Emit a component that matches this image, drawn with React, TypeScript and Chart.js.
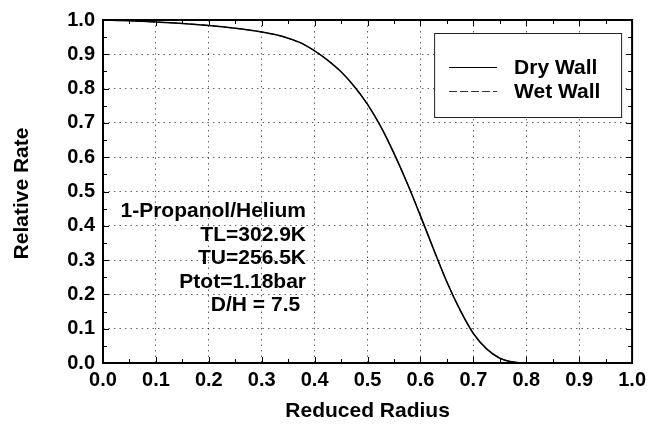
import React, { useEffect, useRef } from "react";
import { Chart, registerables } from "chart.js";

Chart.register(...registerables);

// Reduced radius (x) and relative rate (y)
const radius = [0, 0.05, 0.1, 0.15, 0.2, 0.25, 0.275, 0.3, 0.325, 0.35, 0.375, 0.4, 0.425, 0.45, 0.475, 0.5, 0.525, 0.55, 0.575, 0.6, 0.625, 0.65, 0.675, 0.7, 0.725, 0.75, 0.775, 0.8, 0.85, 0.9, 0.95, 1.0];
const dryWall = [1.0, 0.998, 0.994, 0.99, 0.984, 0.976, 0.971, 0.965, 0.9575, 0.947, 0.9325, 0.91, 0.8825, 0.849, 0.806, 0.754, 0.689, 0.611, 0.524, 0.429, 0.331, 0.236, 0.154, 0.086, 0.041, 0.014, 0.003, 0.0, 0.0, 0.0, 0.0, 0.0];
const wetWall = [1.0, 0.998, 0.994, 0.99, 0.984, 0.976, 0.971, 0.965, 0.9575, 0.947, 0.9325, 0.91, 0.8825, 0.849, 0.806, 0.754, 0.689, 0.611, 0.524, 0.429, 0.331, 0.236, 0.154, 0.086, 0.041, 0.014, 0.003, 0.0, 0.0, 0.0, 0.0, 0.0];

const seriesLabels = ["Dry Wall", "Wet Wall"];
const xTitle = "Reduced Radius";
const yTitle = "Relative Rate";
const annotationLines = ["1-Propanol/Helium", "TL=302.9K", "TU=256.5K", "Ptot=1.18bar", "D/H = 7.5 "];

const FONT = '"Liberation Sans", Arial, Helvetica, sans-serif';

const decorPlugin = {
  id: "decor",
  afterDraw(chart: any) {
    const { ctx, chartArea: a, scales } = chart;
    const xs = scales.x;
    const ys = scales.y;
    ctx.save();

    // inward ticks (major + minor)
    ctx.strokeStyle = "#000";
    ctx.lineWidth = 1;
    ctx.beginPath();
    for (let i = 0; i <= 20; i++) {
      const v = i * 0.05;
      const len = i % 2 === 0 ? 6 : 4;
      const px = Math.round(xs.getPixelForValue(v)) + 0.5;
      ctx.moveTo(px, a.bottom);
      ctx.lineTo(px, a.bottom - len);
      ctx.moveTo(px, a.top);
      ctx.lineTo(px, a.top + len);
      const py = Math.round(ys.getPixelForValue(v)) + 0.5;
      ctx.moveTo(a.left, py);
      ctx.lineTo(a.left + len, py);
      ctx.moveTo(a.right, py);
      ctx.lineTo(a.right - len, py);
    }
    ctx.stroke();

    // frame
    ctx.lineWidth = 2;
    ctx.strokeRect(a.left, a.top, a.right - a.left, a.bottom - a.top);

    // annotation text block
    ctx.fillStyle = "#000";
    ctx.font = `bold 21px ${FONT}`;
    ctx.textAlign = "right";
    ctx.textBaseline = "alphabetic";
    const annRight = a.left + 203;
    annotationLines.forEach((t, i) => {
      ctx.fillText(t, annRight, 217 + i * 23.6);
    });

    // legend box
    const bx = a.right - 198;
    const by = a.top + 13;
    const bw = 187;
    const bh = 84;
    ctx.lineWidth = 1;
    ctx.strokeStyle = "#222";
    ctx.fillStyle = "#fff";
    ctx.fillRect(bx, by, bw, bh);
    ctx.strokeRect(bx + 0.5, by + 0.5, bw, bh);
    chart.data.datasets.forEach((ds: any, i: number) => {
      const ly = by + 34 + i * 24;
      ctx.beginPath();
      ctx.strokeStyle = i === 0 ? "#000" : "#333";
      ctx.lineWidth = 1;
      ctx.setLineDash(ds.borderDash || []);
      ctx.moveTo(bx + 15, ly + 0.5);
      ctx.lineTo(bx + 63, ly + 0.5);
      ctx.stroke();
      ctx.setLineDash([]);
      ctx.fillStyle = "#000";
      ctx.textAlign = "left";
      ctx.fillText(ds.label, bx + 80, ly + 7);
    });

    // axis titles
    ctx.font = `bold 21px ${FONT}`;
    ctx.textAlign = "center";
    ctx.textBaseline = "middle";
    ctx.fillText(xTitle, (a.left + a.right) / 2, 411);
    ctx.translate(22, (a.top + a.bottom) / 2 + 2);
    ctx.rotate(-Math.PI / 2);
    ctx.fillText(yTitle, 0, 0);

    ctx.restore();
  },
};

export default function App() {
  const ref = useRef<HTMLCanvasElement | null>(null);

  useEffect(() => {
    if (!ref.current) return;
    const mk = (vals: number[]) => radius.map((x, i) => ({ x, y: vals[i] }));
    const tickFont = { family: FONT, size: 20, weight: "bold" as const };
    const chart = new Chart(ref.current, {
      type: "line",
      data: {
        datasets: [
          {
            label: seriesLabels[0],
            data: mk(dryWall),
            borderColor: "#000",
            borderWidth: 1.6,
            pointRadius: 0,
            cubicInterpolationMode: "monotone",
            fill: false,
          },
          {
            label: seriesLabels[1],
            data: mk(wetWall),
            borderColor: "#000",
            borderWidth: 1,
            borderDash: [8, 3],
            pointRadius: 0,
            cubicInterpolationMode: "monotone",
            fill: false,
          },
        ],
      },
      options: {
        responsive: false,
        animation: false,
        layout: { padding: { top: 19, right: 18, left: 0, bottom: 0 } },
        plugins: { legend: { display: false }, tooltip: { enabled: false } },
        scales: {
          x: {
            type: "linear",
            min: 0,
            max: 1,
            ticks: {
              stepSize: 0.1,
              color: "#000",
              font: tickFont,
              padding: 5,
              maxRotation: 0,
              callback: (v: any) => Number(v).toFixed(1),
            },
            grid: { color: "rgba(0,0,0,0.6)", lineWidth: 1, drawTicks: false },
            border: { display: false, dash: [1.5, 4] },
            afterFit: (s: any) => {
              s.height = 62;
            },
          },
          y: {
            type: "linear",
            min: 0,
            max: 1,
            ticks: {
              stepSize: 0.1,
              color: "#000",
              font: tickFont,
              padding: 8,
              callback: (v: any) => Number(v).toFixed(1),
            },
            grid: { color: "rgba(0,0,0,0.6)", lineWidth: 1, drawTicks: false },
            border: { display: false, dash: [1.5, 4] },
            afterFit: (s: any) => {
              s.width = 103;
            },
          },
        },
      },
      plugins: [decorPlugin],
    });
    return () => chart.destroy();
  }, []);

  return (
    <div style={{ position: "absolute", left: 0, top: 0, width: 651, height: 425, background: "#fff" }}>
      <canvas ref={ref} width={651} height={425} style={{ display: "block" }} />
    </div>
  );
}
